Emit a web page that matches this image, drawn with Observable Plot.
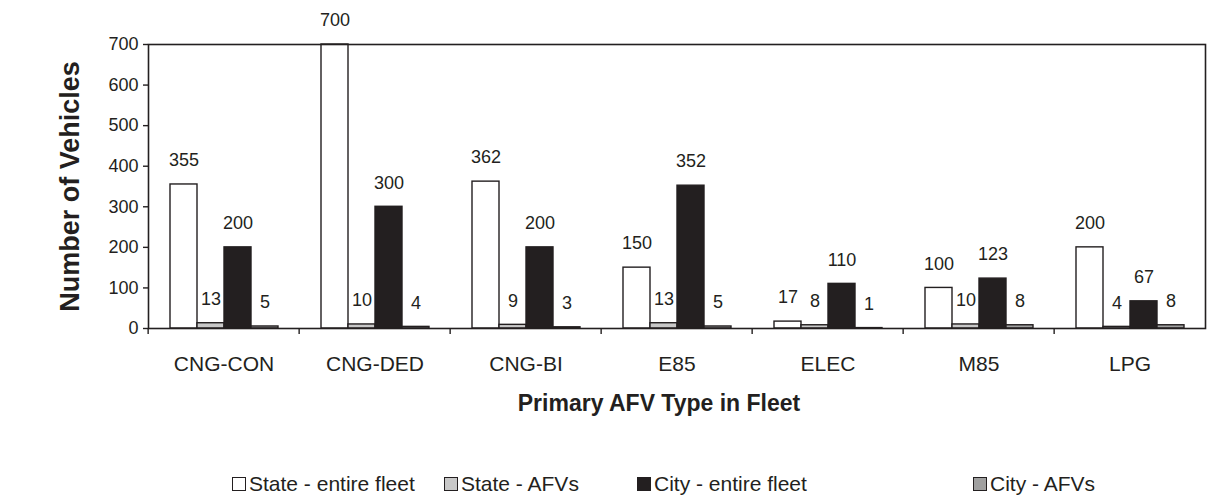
<!DOCTYPE html>
<html>
<head>
<meta charset="utf-8">
<script src="https://cdn.jsdelivr.net/npm/d3@7"></script>
<script src="https://cdn.jsdelivr.net/npm/@observablehq/plot@0.6"></script>
<style>
  html, body { margin: 0; padding: 0; background: #fff; }
  #chart { position: relative; width: 1209px; height: 499px; font-family: "Liberation Sans", Arial, sans-serif; color: #231f20; }
  #legend { position: absolute; left: 0; top: 472px; width: 1209px; height: 28px; }
  .item { position: absolute; top: 0; display: flex; align-items: center; font-size: 21px; white-space: nowrap; }
  .sw { width: 12px; height: 12px; border: 1.5px solid #231f20; margin-right: 3px; }
</style>
</head>
<body>
<div id="chart"><div id="legend"></div></div>
<script>
const categories = ["CNG-CON", "CNG-DED", "CNG-BI", "E85", "ELEC", "M85", "LPG"];
const series = ["State - entire fleet", "State - AFVs", "City - entire fleet", "City - AFVs"];
const stateFleet = [355, 700, 362, 150, 17, 100, 200];
const stateAFVs  = [13, 10, 9, 13, 8, 10, 4];
const cityFleet  = [200, 300, 200, 352, 110, 123, 67];
const cityAFVs   = [5, 4, 3, 5, 1, 8, 8];
const yTicks = [0, 100, 200, 300, 400, 500, 600, 700];
const colors = ["#ffffff", "#c8c8c8", "#231f20", "#a0a0a0"];
const legendLeft = [232, 444, 637, 973];

const seriesValues = [stateFleet, stateAFVs, cityFleet, cityAFVs];
const data = [];
categories.forEach((c, i) => {
  series.forEach((s, j) => data.push({cat: c, series: s, value: seriesValues[j][i]}));
});

const W = 1209, ML = 145, MR = 2;
const step = (W - ML - MR) / categories.length;
const ink = "#231f20";

const chart = Plot.plot({
  width: W,
  height: 430,
  marginLeft: ML,
  marginRight: MR,
  marginTop: 44,
  marginBottom: 102,
  style: {fontFamily: "'Liberation Sans', Arial, sans-serif", color: ink, background: "#fff"},
  fx: {domain: categories, paddingInner: 0, paddingOuter: 0, label: null},
  x: {domain: series, paddingInner: 0, paddingOuter: 0.72, axis: null},
  y: {domain: [0, 700], label: null},
  color: {domain: series, range: colors},
  marks: [
    Plot.barY(data, {fx: "cat", x: "series", y: "value", fill: "series", stroke: ink, strokeWidth: 1.4}),
    Plot.text(data, {fx: "cat", x: "series", y: "value", text: d => String(d.value), dy: -24, fontSize: 18, fill: ink}),
    Plot.frame({facet: "super", stroke: ink, strokeWidth: 1.6}),
    Plot.axisY({ticks: yTicks, tickSize: 5, tickPadding: 5, fontSize: 18, label: null, stroke: ink, strokeWidth: 1.4}),
    Plot.axisFx({anchor: "bottom", tickSize: 0, tickPadding: 28, fontSize: 21, label: null}),
    Plot.axisFx({anchor: "bottom", tickSize: 6, tickFormat: () => "", label: null, dx: -step / 2, stroke: ink, strokeWidth: 1.4}),
    Plot.text(["Number of Vehicles"], {fx: () => categories[0], frameAnchor: "left", textAnchor: "middle", rotate: -90, dx: -78, fontSize: 27, fontWeight: "bold", fill: ink}),
    Plot.text(["Primary AFV Type in Fleet"], {facet: "super", frameAnchor: "bottom", dy: 82, dx: -18, fontSize: 23, fontWeight: "bold", fill: ink})
  ]
});
document.getElementById("chart").prepend(chart);

const legend = document.getElementById("legend");
series.forEach((s, i) => {
  const item = document.createElement("div");
  item.className = "item";
  item.style.left = legendLeft[i] + "px";
  const sw = document.createElement("span");
  sw.className = "sw";
  sw.style.background = colors[i];
  const t = document.createElement("span");
  t.textContent = s;
  item.append(sw, t);
  legend.append(item);
});
</script>
</body>
</html>
